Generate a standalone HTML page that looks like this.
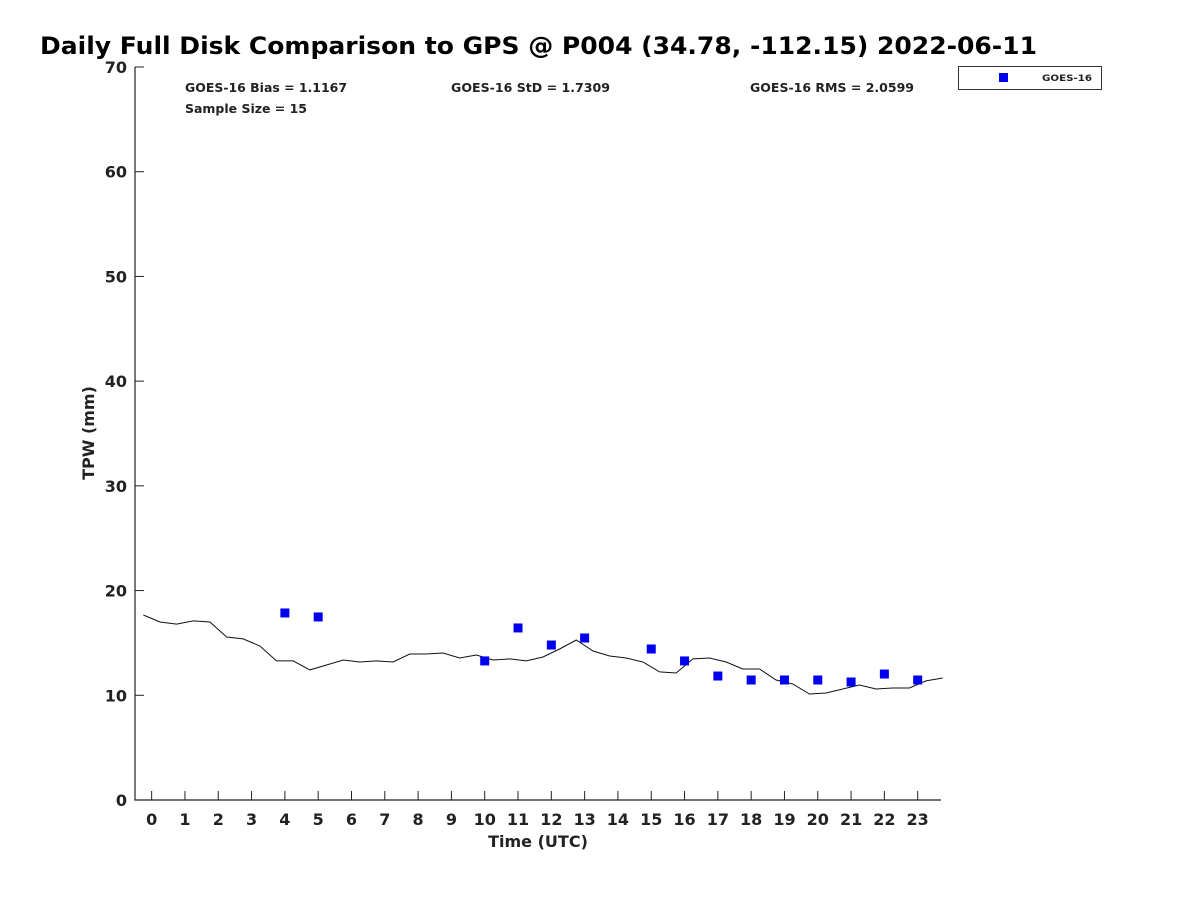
<!DOCTYPE html>
<html><head><meta charset="utf-8"><style>
body{margin:0;background:#fff;}
svg text{font-family:"DejaVu Sans","Liberation Sans",sans-serif;font-weight:bold;}
</style></head><body>
<svg id="chart" width="1200" height="900" xmlns="http://www.w3.org/2000/svg">
<text x="40" y="54" font-size="24" fill="#000" textLength="997" lengthAdjust="spacingAndGlyphs">Daily Full Disk Comparison to GPS @ P004 (34.78, -112.15) 2022-06-11</text>
<g id="axes"></g>
<g id="marks"></g>
<text x="185" y="92" font-size="12" fill="#222" textLength="162" lengthAdjust="spacingAndGlyphs">GOES-16 Bias = 1.1167</text>
<text x="451" y="92" font-size="12" fill="#222" textLength="159" lengthAdjust="spacingAndGlyphs">GOES-16 StD = 1.7309</text>
<text x="750" y="92" font-size="12" fill="#222" textLength="164" lengthAdjust="spacingAndGlyphs">GOES-16 RMS = 2.0599</text>
<text x="185" y="113" font-size="12" fill="#222" textLength="122" lengthAdjust="spacingAndGlyphs">Sample Size = 15</text>
<g>
<rect x="958.5" y="66.5" width="143" height="23" fill="#fff" stroke="#333" stroke-width="1"/>
<rect x="999" y="73" width="9" height="9" fill="#0000ee"/>
<text x="1042" y="81" font-size="9" fill="#222" textLength="50" lengthAdjust="spacingAndGlyphs">GOES-16</text>
</g>
<text x="538" y="847" font-size="16" fill="#222" text-anchor="middle">Time (UTC)</text>
<text transform="translate(94,433) rotate(-90)" font-size="16" fill="#222" text-anchor="middle">TPW (mm)</text>
</svg>
<script>
const xTicks=[0,1,2,3,4,5,6,7,8,9,10,11,12,13,14,15,16,17,18,19,20,21,22,23];
const yTicks=[0,10,20,30,40,50,60,70];
const gpsValues=[17.67,17.0,16.8,17.1,17.0,15.57,15.38,14.71,13.28,13.28,12.42,12.89,13.37,13.18,13.28,13.18,13.94,13.94,14.04,13.56,13.85,13.37,13.47,13.28,13.66,14.42,15.28,14.23,13.75,13.56,13.18,12.23,12.13,13.47,13.56,13.18,12.51,12.51,11.46,11.08,10.12,10.22,10.6,10.98,10.6,10.7,10.7,11.37,11.65];
const goesHours=[4,5,10,11,12,13,15,16,17,18,19,20,21,22,23];
const goesValues=[17.86,17.48,13.28,16.43,14.8,15.47,14.42,13.28,11.84,11.46,11.46,11.46,11.27,12.03,11.46];
const NS="http://www.w3.org/2000/svg";
const X0=135,X1=941,Y0=800,Y1=67;
const xs=h=>X0+(h+0.5)/24.2*(X1-X0);
const ys=v=>Y0-v/70*(Y0-Y1);
function mk(t,a,p){const e=document.createElementNS(NS,t);for(const k in a)e.setAttribute(k,a[k]);if(p)p.appendChild(e);return e;}
const axes=document.getElementById('axes'),marks=document.getElementById('marks');
const ax=mk('path',{d:`M${X0},${Y1} V${Y0} H${X1}`,fill:'none',stroke:'#222','stroke-width':1.2},axes);


xTicks.forEach(h=>{
 const x=xs(h);
 const l=mk('line',{x1:x,x2:x,y1:Y0,y2:Y0-9,stroke:'#222'},axes);
 
 
 const t=mk('text',{x:x,y:Y0+25,'font-size':16,fill:'#222','text-anchor':'middle'},axes);
 t.textContent=h;
 
 
});
yTicks.forEach(v=>{
 const y=ys(v);
 const l=mk('line',{x1:X0,x2:X0+9,y1:y,y2:y,stroke:'#222'},axes);
 
 
 const t=mk('text',{x:X0-8,y:y+6,'font-size':16,fill:'#222','text-anchor':'end'},axes);
 t.textContent=v;
 
 
});
const pts=gpsValues.map((v,i)=>`${xs(-0.25+0.5*i).toFixed(1)},${ys(v).toFixed(1)}`).join(' ');
const line=mk('polyline',{points:pts,fill:'none',stroke:'#111','stroke-width':1},marks);


goesHours.forEach((h,i)=>{
 const r=mk('rect',{x:xs(h)-4.5,y:ys(goesValues[i])-4.5,width:9,height:9,fill:'#0000ee'},marks);
 
 
});
</script>
</body></html>
